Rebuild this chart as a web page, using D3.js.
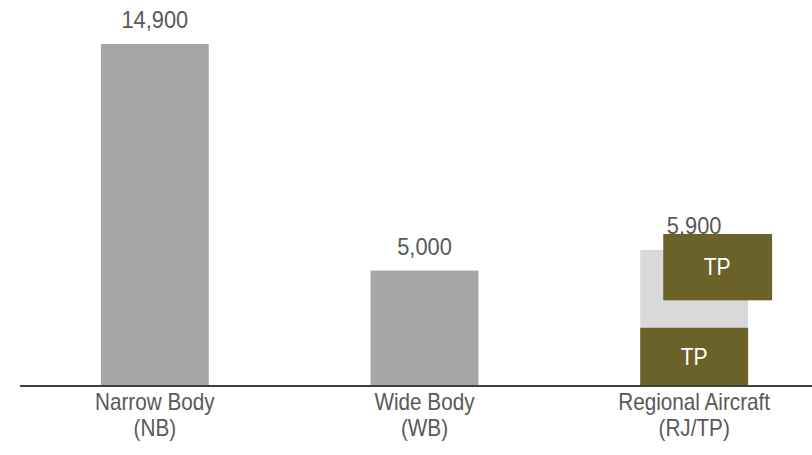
<!DOCTYPE html>
<html>
<head>
<meta charset="utf-8">
<script src="https://cdn.jsdelivr.net/npm/d3@7/dist/d3.min.js"></script>
<style>
  html, body { margin: 0; padding: 0; background: #fff; }
  svg { display: block; }
</style>
</head>
<body>
<svg id="chart" width="812" height="455"></svg>
<script>
// Fleet by aircraft class
const categories = ["Narrow Body", "Wide Body", "Regional Aircraft"];
const categoryCodes = ["(NB)", "(WB)", "(RJ/TP)"];
const fleetValues = [14900, 5000, 5900];
const valueLabels = ["14,900", "5,000", "5,900"];

// Turboprop segments within the regional column: [from, to]
const tpLabels = ["TP", "TP"];
const tpFrom = [0, 3700];
const tpTo = [2500, 6600];

const W = 812, H = 455;
const svg = d3.select("#chart");

const x = d3.scaleBand()
  .domain(categories)
  .range([20, 829])
  .paddingInner(0.6)
  .paddingOuter(0.3);

const y = d3.scaleLinear()
  .domain([0, 14900])
  .range([385, 44]);

const barGrey = "#a6a6a6";
const lightGrey = "#d9d9d9";
const olive = "#6b6229";
const textGrey = "#595959";
const font = "'Liberation Sans', Arial, sans-serif";

const rows = categories.map((c, i) => ({
  cat: c, code: categoryCodes[i], value: fleetValues[i], label: valueLabels[i]
}));
const cx = d => x(d.cat) + x.bandwidth() / 2;

// Columns
svg.append("g").selectAll("rect")
  .data(rows)
  .join("rect")
  .attr("x", d => x(d.cat))
  .attr("width", x.bandwidth())
  .attr("y", d => y(d.value))
  .attr("height", d => y(0) - y(d.value))
  .attr("fill", (d, i) => i === 2 ? lightGrey : barGrey);

// Value labels
svg.append("g").selectAll("text")
  .data(rows)
  .join("text")
  .attr("transform", d => `translate(${cx(d)},${y(d.value) - 16}) scale(0.95,1)`)
  .attr("text-anchor", "middle")
  .attr("font-family", font)
  .attr("font-size", 23)
  .attr("fill", textGrey)
  .text(d => d.label);

// Turboprop segments (the upper one is offset to the right)
const tpShift = [0, 23];
const tp = tpLabels.map((l, i) => ({ label: l, from: tpFrom[i], to: tpTo[i], shift: tpShift[i] }));
const regional = categories[2];
const tpG = svg.append("g").selectAll("g")
  .data(tp)
  .join("g");
tpG.append("rect")
  .attr("x", d => x(regional) + d.shift)
  .attr("width", d => x.bandwidth() + (d.shift ? 1 : 0))
  .attr("y", d => y(d.to))
  .attr("height", d => y(d.from) - y(d.to))
  .attr("fill", olive);
tpG.append("text")
  .attr("transform", d => `translate(${x(regional) + d.shift + x.bandwidth() / 2},${(y(d.from) + y(d.to)) / 2}) scale(0.92,1)`)
  .attr("dy", "0.36em")
  .attr("text-anchor", "middle")
  .attr("font-family", font)
  .attr("font-size", 23)
  .attr("fill", "#ffffff")
  .text(d => d.label);

// Baseline
svg.append("line")
  .attr("x1", 20).attr("x2", W)
  .attr("y1", y(0) + 1).attr("y2", y(0) + 1)
  .attr("stroke", "#404040")
  .attr("stroke-width", 2);

// Category labels, two lines each
const catText = svg.append("g").selectAll("text")
  .data(rows)
  .join("text")
  .attr("transform", d => `translate(${cx(d)},0) scale(0.9,1)`)
  .attr("text-anchor", "middle")
  .attr("font-family", font)
  .attr("font-size", 23)
  .attr("fill", textGrey);
catText.append("tspan")
  .attr("x", 0)
  .attr("y", 410)
  .text(d => d.cat);
catText.append("tspan")
  .attr("x", 0)
  .attr("y", 436)
  .text(d => d.code);
</script>
</body>
</html>
